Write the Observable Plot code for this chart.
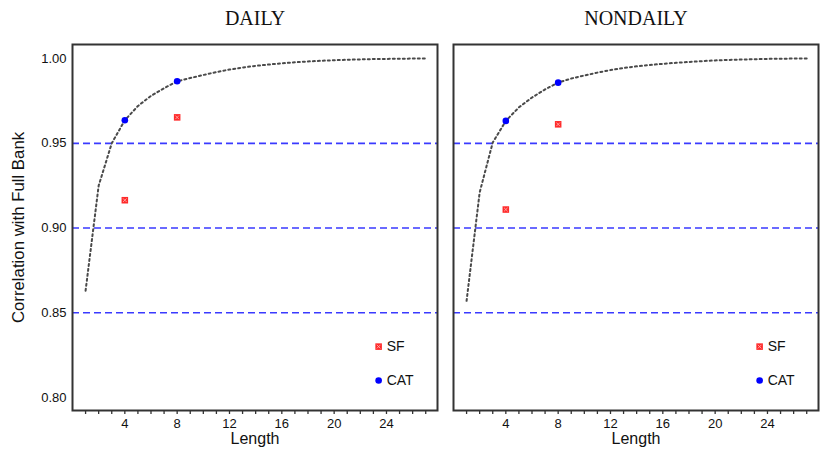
<!DOCTYPE html>
<html><head><meta charset="utf-8">
<script src="https://cdn.jsdelivr.net/npm/d3@7"></script>
<script src="https://cdn.jsdelivr.net/npm/@observablehq/plot@0.6"></script>
<style>
body{margin:0;background:#fff;}
#wrap{position:relative;width:823px;height:449px;overflow:hidden;}
#wrap > div{position:absolute;top:0;}
#left{left:0;}
#right{left:445px;}
</style></head><body><div id="wrap"><div id="left"></div><div id="right"></div></div>
<script>
const panels = ["DAILY", "NONDAILY"];
const lengths = [1,2,3,4,5,6,7,8,9,10,11,12,13,14,15,16,17,18,19,20,21,22,23,24,25,26,27];
const dailyCurve = [0.863,0.925,0.950,0.9636,0.972,0.978,0.9825,0.9866,0.9885,0.9903,0.9920,0.9935,0.9947,0.9957,0.9965,0.9972,0.9978,0.9983,0.9987,0.9990,0.9993,0.9995,0.9997,0.9998,0.9999,1.0,1.0];
const nondailyCurve = [0.857,0.921,0.9505,0.9632,0.9712,0.977,0.9818,0.9858,0.9882,0.9900,0.9917,0.9932,0.9944,0.9954,0.9962,0.9969,0.9975,0.9980,0.9985,0.9989,0.9992,0.9994,0.9996,0.9998,0.9999,1.0,1.0];
const pointLengths = [4, 8];
const dailyCAT = [0.9636, 0.9866];
const dailySF = [0.9164, 0.9653];
const nondailyCAT = [0.9632, 0.9858];
const nondailySF = [0.9109, 0.9612];
const refLines = [0.95, 0.90, 0.85];
const yTicks = [0.80, 0.85, 0.90, 0.95, 1.00];
const xTickLabels = [4, 8, 12, 16, 20, 24];
const legendItems = ["SF", "CAT"];
const legendX = 23.4;
const legendY = [0.830, 0.810];

const SANS = "'Liberation Sans', Arial, sans-serif";
const SERIF = "'Liberation Serif', 'Times New Roman', serif";

function panel(title, curve, cat, sf, showY, width, mL, mR) {
  const curveData = lengths.map((x, i) => ({x, y: curve[i]}));
  const catData = pointLengths.map((x, i) => ({x, y: cat[i]}));
  const sfData = pointLengths.map((x, i) => ({x, y: sf[i]}));
  const sfLeg = [{x: legendX, y: legendY[0], t: legendItems[0]}];
  const catLeg = [{x: legendX, y: legendY[1], t: legendItems[1]}];
  return Plot.plot({
    width, height: 449,
    marginTop: 44, marginBottom: 39, marginLeft: mL, marginRight: mR,
    x: {domain: [0, 27.9]},
    y: {domain: [0.7923, 1.0083], axis: null},
    style: {fontFamily: SANS, fontSize: "13px", color: "#222", background: "#fff", overflow: "visible"},
    marks: [
      Plot.ruleY(refLines, {stroke: "#3a3aff", strokeWidth: 1.7, strokeDasharray: "7,4"}),
      Plot.line(curveData, {x: "x", y: "y", stroke: "#4a4a4a", strokeWidth: 2, strokeDasharray: "2,3"}),
      Plot.dot(catData, {x: "x", y: "y", r: 3.3, fill: "#0000ff"}),
      Plot.dot(sfData, {x: "x", y: "y", symbol: "square", r: 3.7, fill: "#ff2a2a"}),
      Plot.dot(sfData, {x: "x", y: "y", symbol: "times", r: 1.8, stroke: "#ffb8b8", strokeWidth: 0.8}),
      Plot.dot(sfLeg, {x: "x", y: "y", symbol: "square", r: 3.7, fill: "#ff2a2a"}),
      Plot.dot(sfLeg, {x: "x", y: "y", symbol: "times", r: 1.8, stroke: "#ffb8b8", strokeWidth: 0.8}),
      Plot.dot(catLeg, {x: "x", y: "y", r: 3.3, fill: "#0000ff"}),
      Plot.text(sfLeg.concat(catLeg), {x: "x", y: "y", text: "t", dx: 8, textAnchor: "start", fontSize: 14, fill: "#111"}),
      Plot.frame({stroke: "#333", strokeWidth: 2}),
      Plot.axisX(lengths, {tickSize: 4, tickPadding: 4, stroke: "#333", strokeWidth: 1.3, fill: "#111",
        tickFormat: d => xTickLabels.includes(d) ? String(d) : "", label: null}),
      Plot.text(["Length"], {frameAnchor: "bottom", dy: 28, lineAnchor: "middle", fontSize: 16, fill: "#111"}),
      Plot.text([title], {frameAnchor: "top", dy: -26, lineAnchor: "middle", fontSize: 20, fontFamily: SERIF, fill: "#111"}),
      showY ? Plot.axisY(yTicks, {tickSize: 0, tickPadding: 6, fill: "#111", tickFormat: d3.format(".2f"), label: null}) : null,
      showY ? Plot.text(["Correlation with Full Bank"], {frameAnchor: "left", dx: -54, rotate: -90, textAnchor: "middle", lineAnchor: "middle", fontSize: 16.8, fill: "#111"}) : null
    ]
  });
}

document.getElementById("left").append(panel(panels[0], dailyCurve, dailyCAT, dailySF, true, 445, 72, 8));
document.getElementById("right").append(panel(panels[1], nondailyCurve, nondailyCAT, nondailySF, false, 378, 8, 5));
</script></body></html>
